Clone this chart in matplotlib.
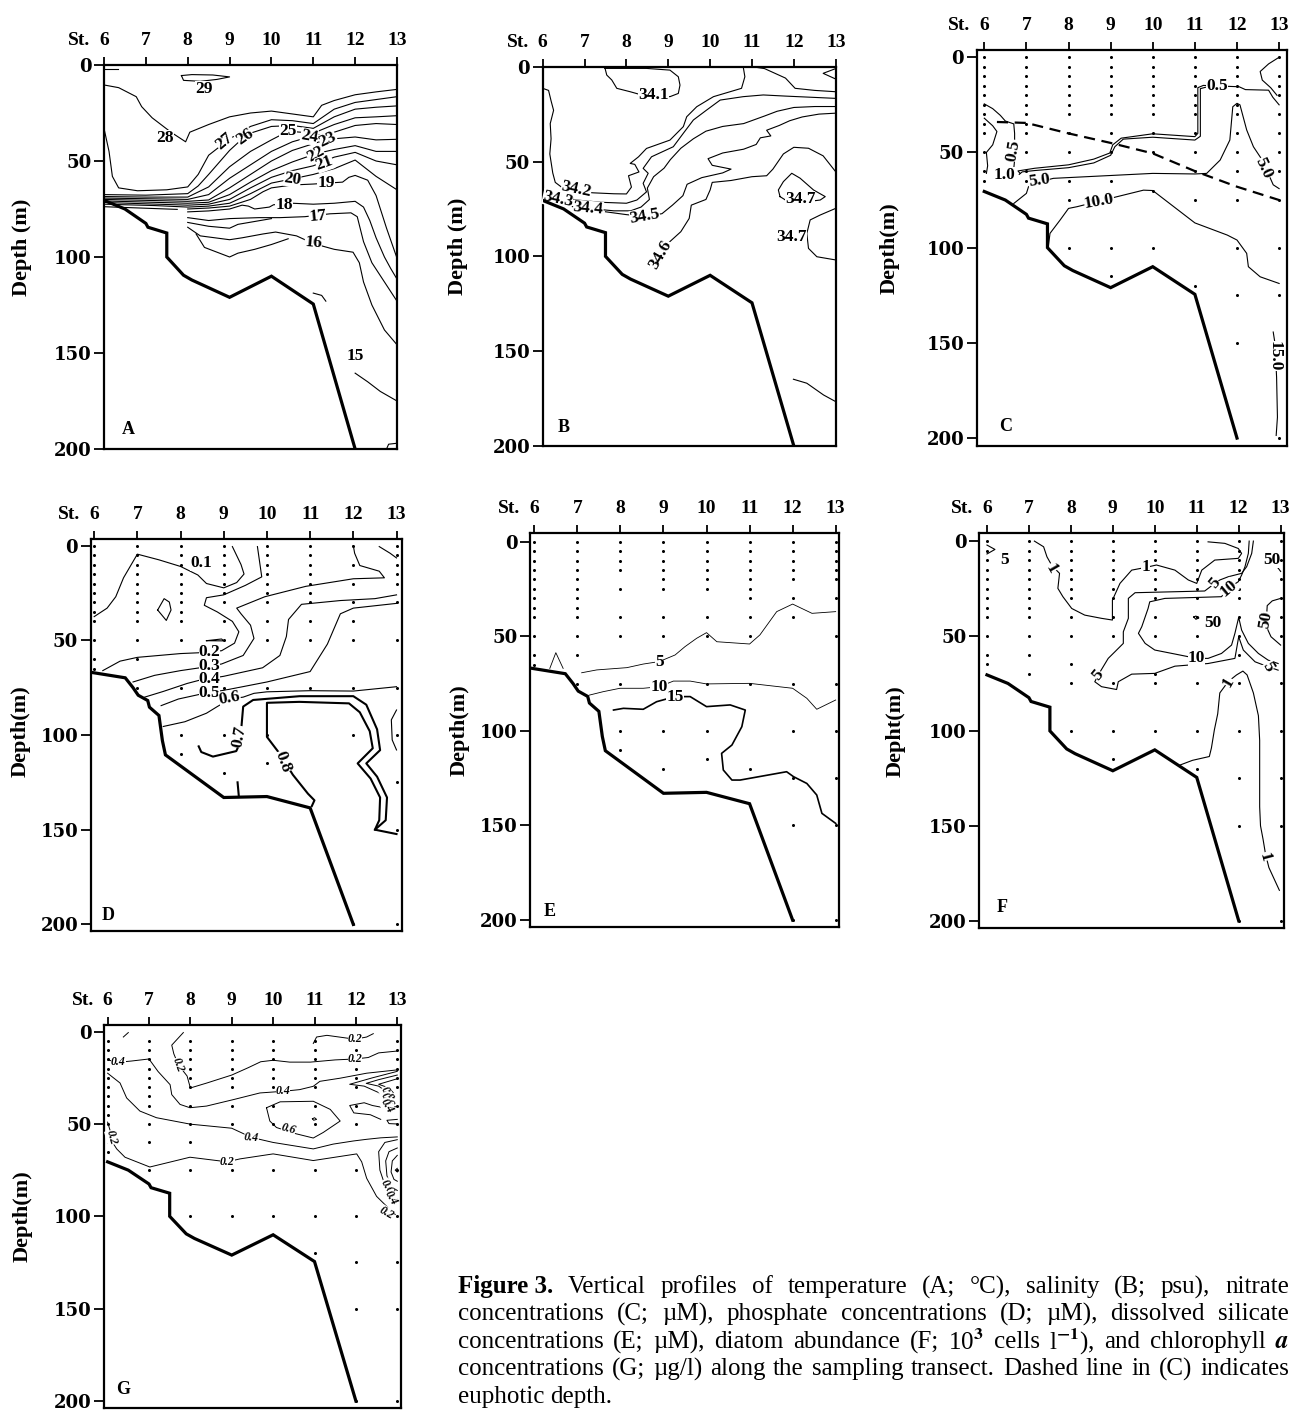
import matplotlib
matplotlib.use("Agg")
import matplotlib.pyplot as plt

plt.rcParams["font.family"] = ["Liberation Serif", "DejaVu Serif"]
plt.rcParams["font.weight"] = "bold"
plt.rcParams["mathtext.fontset"] = "stix"

W, H = 1291, 1412

stations = [6, 7, 8, 9, 10, 11, 12, 13]
depth_ticks = [0, 50, 100, 150, 200]

# sea floor along the transect (station, depth in m)
floor_st = [6, 6.5, 7, 7.05, 7.5, 7.5, 7.9, 8.1, 9, 10, 11, 12]
floor_d = [70.5, 75, 82.5, 84.5, 87.5, 100, 109.5, 112, 121, 110, 124.5, 200]
# sea floor as drawn in panels D and E
floor2_st = [5.9, 6.72, 6.9, 7.02, 7.24, 7.28, 7.5, 7.58, 7.65, 9, 10, 11, 12]
floor2_d = [66.8, 69.8, 75, 79, 81.8, 85.3, 89.7, 103, 110.5, 133, 132.5, 138.5, 200]

# ---------------- A: temperature
temp_lines = [
    [(6, 2.3), (6.33, 2.3)],
    [(7.85, 5.5), (7.9, 8), (8.3, 8.5), (8.7, 7.5), (9.0, 6.2), (8.6, 5.2), (8.1, 5), (7.85, 5.5)],
    [(6, 10.4), (6.35, 11.8), (6.77, 16.5), (6.9, 21.7), (7.15, 27.5), (7.6, 35), (7.95, 40), (8.05, 35),
     (8.5, 31), (9, 27), (9.5, 25), (10, 24), (10.5, 25.5), (11, 27), (11.2, 21), (11.5, 18.5), (12, 15.5),
     (12.5, 14), (13, 12.7)],
    [(6, 33), (6.12, 45), (6.2, 58), (6.35, 64), (6.8, 65.5), (7.5, 65), (8, 63.5), (8.25, 57), (8.5, 47),
     (9, 38.5), (9.5, 32), (10, 28.5), (10.5, 29), (11, 30.5), (11.5, 23), (12, 19.5), (12.5, 18), (13, 16.5)],
    [(6, 67.5), (7, 67.8), (8, 67), (8.25, 63), (8.5, 57), (9, 44.5), (9.36, 37.3), (9.5, 35.5), (10, 32),
     (10.5, 31.5), (11, 33), (11.5, 27), (12, 23), (12.5, 22), (13, 21.3)],
    [(6, 68.5), (7, 68.8), (8, 68.8), (8.5, 63.5), (9, 53), (9.5, 45), (10, 39), (10.4, 34.5), (11, 35.5),
     (11.5, 31), (12, 27.5), (12.5, 27), (13, 26.4)],
    [(6, 69.3), (8, 70), (8.5, 67.5), (9, 59), (9.5, 52), (10, 45), (10.5, 40), (10.9, 37.5), (11.5, 35),
     (12, 31.5), (12.5, 30.5), (13, 31)],
    [(6, 70), (8, 71), (8.5, 70.3), (9, 64), (9.5, 57), (10, 50), (10.5, 44.5), (11, 41), (11.35, 38.7),
     (12, 37.5), (12.5, 39), (13, 38.7)],
    [(6, 70.8), (8, 72), (8.5, 71.5), (9, 67.5), (9.5, 61), (10, 55), (10.5, 50.5), (11.05, 46.3), (11.5, 44),
     (12, 42), (12.5, 45), (13, 45)],
    [(6, 71.6), (8, 73), (8.5, 72.5), (9, 70), (9.5, 64), (10, 58.5), (10.5, 55), (11, 52.5), (11.5, 48),
     (12, 45.5), (12.5, 50), (13, 52)],
    [(6, 72.5), (7.2, 73.2), (8, 74), (8.5, 73.5), (9, 72), (9.5, 67), (10, 61.5), (10.5, 59.3), (11, 57),
     (11.5, 54), (12, 49.5), (12.5, 58), (13, 65)],
    [(6, 73.8), (7.75, 75.2)],
    [(8, 75), (8.5, 74.5), (9, 73.5), (9.5, 70), (9.8, 66), (10, 64), (10.5, 62.5), (11, 62), (11.7, 61),
     (11.85, 58.5), (12, 57.5), (12.3, 60), (12.5, 68), (12.75, 85), (13, 100.6)],
    [(8, 76.5), (8.5, 76), (9, 75), (9.3, 73), (9.45, 73.5), (9.6, 75), (9.95, 74), (10.05, 72.8), (10.5, 72),
     (11, 72.5), (11.5, 72), (12, 71), (12.2, 74), (12.35, 81), (12.5, 90), (12.7, 100), (12.85, 106), (13, 111.5)],
    [(8, 79.5), (8.5, 81), (9, 80), (9.7, 79.5), (10.2, 79.5), (10.8, 79), (11.4, 77.5), (11.9, 77), (12.05, 79),
     (12.2, 92), (12.4, 103), (12.7, 113), (13, 123)],
    [(8, 82), (8.5, 84), (9, 85), (9.2, 83), (9.6, 81.5), (10, 80)],
    [(8, 84.5), (8.3, 89), (9, 91), (9.3, 90), (9.8, 88), (10.1, 87), (10.6, 89), (11, 93), (11.5, 96),
     (11.95, 97.5), (12.1, 103), (12.2, 113), (12.4, 125), (12.7, 138), (13, 145.7)],
    [(8.2, 88), (8.4, 95), (9, 100), (9.2, 98), (9.6, 96), (10, 93.5), (10.4, 90.5)],
    [(12, 160.5), (12.3, 165), (12.6, 170), (13, 175)],
    [(11, 118.8), (11.2, 120), (11.3, 123)],
    [(12.75, 200), (12.8, 197.5), (13, 197)],
]
temp_labels = [("29", 8.39, 12.7, 0), ("28", 7.45, 37.8, 0), ("27", 8.88, 40, 40), ("26", 9.36, 37.3, 35),
               ("25", 10.4, 34.3, 0), ("24", 10.9, 37.3, -10), ("23", 11.35, 38.7, 25), ("22", 11.05, 46.3, 30),
               ("21", 11.27, 51.2, 20), ("20", 10.5, 59.3, -8), ("19", 11.3, 61.6, 0), ("18", 10.3, 73, 0),
               ("17", 11.1, 79, 5), ("16", 11.0, 92.8, -5), ("15", 12.01, 151.4, 0)]

# ---------------- B: salinity
sal_lines = [
    [(7.49, 0.9), (7.53, 4.4), (7.65, 7), (7.77, 11.4), (8.09, 13.2), (8.3, 14.5), (8.64, 15), (9.04, 15.8),
     (9.24, 14.1), (9.28, 9.7), (9.24, 5.3), (9.04, 1.8), (8.48, 0.9), (7.49, 0.9)],
    [(6, 11.4), (6.14, 12.5), (6.2, 18), (6.26, 23), (6.18, 30), (6.2, 38), (6.17, 46), (6.24, 56), (6.3, 61),
     (6.45, 63.5), (6.73, 65.4), (7.2, 66.5), (7.7, 67), (8.0, 67.1), (8.12, 63.5), (8.05, 57.5), (8.3, 55.5),
     (8.2, 51.5), (8.09, 51), (8.29, 47.5), (8.48, 43.1), (9.04, 38.7), (9.36, 31.6), (9.44, 26.4), (9.68, 21.1),
     (10.08, 15.8), (10.75, 11.4), (10.83, 5.3), (10.79, 0)],
    [(11.0, 0), (11.3, 1), (11.8, 6), (12.03, 11.4), (12.5, 12.5), (13, 13.2)],
    [(13, 1), (12.7, 3.5), (13, 6.5)],
    [(6.05, 70), (6.41, 68.5), (6.81, 70.3), (7.4, 71.5), (8.0, 72), (8.25, 70.3), (8.48, 66), (8.4, 61.5),
     (8.52, 56.2), (8.4, 53.6), (8.6, 47.5), (9.12, 42.2), (9.36, 35.1), (9.6, 28.1), (9.92, 22.8), (10.24, 17.6),
     (10.79, 15.8), (11.27, 14.9), (11.8, 15.5), (12.3, 16), (13, 16.7)],
    [(6.15, 72), (6.6, 73.5), (7.09, 74.7), (7.7, 76), (8.1, 76), (8.35, 74), (8.55, 70), (8.5, 64), (8.65, 58),
     (8.9, 53.5), (9.05, 49), (9.3, 43), (9.6, 38), (9.9, 34), (10.3, 31.5), (10.8, 30), (11.3, 26), (11.6, 23.5),
     (12.0, 21.5), (12.5, 21), (13, 21)],
    [(7.5, 76.5), (8.0, 78), (8.44, 79), (8.85, 77.5), (9.1, 73), (9.35, 68), (9.45, 62), (9.8, 58.5), (10.3, 56),
     (10.5, 54), (10.05, 52), (9.95, 48.5), (10.3, 45.5), (10.8, 43.5), (11.1, 41), (11.2, 37.5), (11.45, 36.5),
     (11.35, 33.5), (11.65, 31), (11.9, 28.5), (12.2, 26.5), (12.6, 25), (13, 24.5)],
    [(8.6, 104), (8.75, 98), (9.0, 93), (9.3, 87), (9.5, 80), (9.55, 73), (9.9, 70), (10.0, 65), (10.05, 61),
     (10.5, 60), (11.0, 58), (11.35, 57.5), (11.5, 54), (11.75, 46), (12.0, 42.5), (12.35, 43), (12.7, 47), (13, 55.4)],
    [(11.67, 68.5), (11.63, 65), (11.75, 60.6), (11.95, 56.2), (12.15, 58.8), (12.47, 65), (12.75, 68.5),
     (12.63, 70.3), (12.2, 71.5), (11.85, 71), (11.67, 68.5)],
    [(13, 74.7), (12.63, 78.2), (12.39, 80.8), (12.31, 87.9), (12.35, 95.8), (12.55, 100.2), (13, 101.9)],
    [(11.99, 164.8), (12.31, 166.9), (12.71, 173.1), (13, 176.6)],
]
sal_labels = [("34.1", 8.64, 14.9, 0), ("34.2", 6.8, 64.8, -12), ("34.3", 6.36, 69.8, -12),
              ("34.4", 7.09, 74.9, -5), ("34.5", 8.44, 79, 10), ("34.6", 8.82, 99, 60),
              ("34.7", 12.15, 70, 0), ("34.7", 11.95, 89.6, 0)]

# ---------------- C: nitrate
no3_lines = [
    [(6, 24.5), (6.2, 27), (6.38, 30.5), (6.5, 33.5), (6.7, 35), (6.72, 40), (6.72, 54), (6.7, 58.5)],
    [(6, 32), (6.2, 36), (6.3, 39), (6.2, 46), (6.05, 50), (6.08, 57), (6.05, 61)],
    [(6.83, 61.5), (6.9, 60.2), (7.2, 59.5), (8, 58), (8.6, 55.5), (9, 51.5), (9.1, 47), (9.3, 43), (10, 42),
     (11, 43.5), (11.13, 41.5), (11.13, 16.5), (11.25, 15.8)],
    [(6.85, 61), (6.8, 59.7), (7.2, 58.3), (8, 56.5), (8.6, 53.5), (8.98, 50.3), (9.05, 46), (9.25, 42.5),
     (10, 40.2), (11, 41.7), (11.07, 40), (11.07, 16), (11.2, 14.8), (12.05, 15.5), (12.2, 17), (12.75, 17.3),
     (12.85, 21), (13, 25)],
    [(13, 0), (12.75, 3.5), (12.55, 7.5), (12.6, 12), (12.8, 16), (12.95, 20)],
    [(6.7, 76.8), (7, 71.5), (7.05, 68), (7.3, 65.5), (7.64, 63.6), (10, 61), (11, 61.3), (11.28, 61),
     (11.6, 54), (11.83, 43.5), (11.9, 26), (12, 24.2), (12.07, 25), (12.23, 38.2), (12.39, 47), (12.6, 54),
     (12.86, 67), (13, 69)],
    [(7.52, 99.6), (7.56, 92.5), (7.8, 85.5), (8, 79.4), (8.2, 78.5), (9.14, 73.3), (9.78, 69.8), (10, 70),
     (10.5, 78.5), (11, 87), (11.77, 93.4), (12, 96), (12.23, 103), (12.27, 110), (12.55, 115.3), (13, 118.8)],
    [(12.86, 144.3), (12.9, 150), (12.94, 168), (12.96, 189), (12.93, 198.6)],
]
no3_labels = [("0.5", 6.7, 49, 80), ("1.0", 6.49, 61.9, 0), ("5.0", 7.3, 64.8, 8), ("10.0", 8.73, 75.9, 10),
              ("0.5", 11.52, 15.0, 0), ("5.0", 12.63, 58.4, -65), ("15.0", 12.9, 157, -90)]
euph_st = [6.3, 7, 8, 9, 10, 11, 12, 13]
euph_d = [34, 34.5, 40, 45, 50.5, 59.8, 68, 75]
no3_samples = [
    [0, 5, 10, 15, 20, 25, 30, 35, 40, 50, 60, 65],
    [0, 5, 10, 15, 20, 25, 30, 35, 40, 50, 60, 65],
    [0, 5, 10, 15, 20, 25, 30, 40, 50, 65, 75, 100],
    [0, 5, 10, 15, 20, 25, 30, 40, 50, 65, 75, 100, 115],
    [0, 5, 10, 15, 20, 25, 30, 40, 50, 70, 100],
    [0, 5, 10, 15, 20, 25, 30, 40, 50, 60, 75, 120],
    [0, 5, 10, 15, 20, 25, 30, 40, 50, 60, 75, 100, 125, 150],
    [0, 10, 15, 20, 30, 40, 50, 60, 75, 100, 125, 200],
]

# ---------------- D: phosphate
po4_lines = [
    [(6, 37.5), (6.3, 33), (6.5, 27), (6.68, 17), (7.0, 4.5), (7.5, 7.5), (8.0, 11), (8.4, 15.5), (8.6, 20),
     (9, 22.3), (9.3, 19.5), (9.47, 15), (9.4, 10), (9.2, 0.5)],
    [(7.47, 34), (7.62, 28), (7.74, 29.8), (7.78, 34), (7.67, 39.5), (7.47, 34)],
    [(8.6, 50.2), (8.95, 49.3), (9.0, 50.3), (8.6, 50.2)],
    [(6.2, 66), (6.6, 61), (7.0, 59), (8.0, 57), (8.5, 56.5), (8.95, 55.5), (9.25, 51.5), (9.35, 45.5), (9.2, 40),
     (8.85, 35), (8.55, 31.5), (8.6, 27.5), (9, 26), (9.5, 21), (9.88, 16.5), (9.83, 8.5), (9.78, 0.5)],
    [(6.9, 72), (7.4, 68.5), (8.0, 66), (8.45, 64.5), (8.95, 62.5), (9.45, 58), (9.7, 49), (9.62, 42), (9.4, 36),
     (9.3, 33), (9.95, 27), (10.9, 21.5), (12.0, 17.5), (12.72, 17), (12.6, 13.5), (12.15, 10.5), (12.03, 4), (12, 0)],
    [(7.17, 80), (7.6, 77), (8.15, 72.8), (8.45, 71), (9.0, 69), (9.9, 64.5), (10.3, 58), (10.45, 48), (10.5, 39),
     (10.8, 31), (11.7, 29), (12.5, 28), (13, 26)],
    [(7.55, 84.5), (7.95, 81), (8.45, 78.5), (9.1, 76), (10, 72), (11, 66.5), (11.4, 52), (11.7, 36), (12, 33),
     (13, 30.5)],
    [(7.6, 95.5), (8.1, 93), (8.6, 88.5), (8.85, 85), (9.15, 81), (9.45, 80), (9.7, 78), (10, 77.2), (11, 76.6),
     (12, 76.8), (13, 74.5)],
    [(12.6, 0.5), (12.85, 4), (13, 6.5)],
    [(13, 86.8), (12.88, 92), (12.9, 102.6), (13, 107.9)],
]
po4_thick = [
    [(8.42, 106), (8.48, 109), (8.75, 111.4), (9.29, 108.5), (9.38, 104), (9.41, 95.6), (9.45, 85), (9.68, 81.5),
     (10.76, 79.5), (12, 79.5), (12.3, 84), (12.55, 97), (12.62, 108), (12.3, 115), (12.55, 122), (12.78, 133),
     (12.75, 145), (12.5, 150), (13, 152.3)],
    [(11.04, 137.5), (11.1, 134.5), (10.95, 131), (10.6, 121), (10.3, 110), (10.0, 101), (10.0, 83), (10.75, 82.5),
     (11.9, 83.3), (12.15, 88), (12.38, 98), (12.45, 107), (12.1, 115), (12.4, 123), (12.62, 133), (12.6, 145),
     (12.5, 150)],
    [(9.32, 125), (9.35, 132.5)],
]
po4_labels = [("0.1", 8.48, 9.3, 0), ("0.2", 8.67, 56.3, 0), ("0.3", 8.67, 63.4, 0), ("0.4", 8.67, 70.4, 0),
              ("0.5", 8.67, 77.8, 0), ("0.6", 9.14, 80.6, 10), ("0.7", 9.37, 100.9, 80), ("0.8", 10.38, 114, -70)]
po4_samples = [
    [0, 5, 10, 15, 20, 25, 30, 35, 40, 50, 60, 65],
    [0, 5, 10, 15, 20, 25, 30, 35, 40, 50, 60, 75],
    [0, 5, 10, 15, 20, 25, 30, 35, 40, 50, 75, 100, 110],
    [0, 5, 10, 15, 20, 25, 30, 40, 50, 75, 100, 120],
    [0, 5, 10, 15, 20, 25, 30, 40, 50, 75, 100, 115],
    [0, 5, 10, 15, 20, 25, 30, 40, 50, 75],
    [0, 10, 20, 30, 40, 50, 75, 100, 200],
    [0, 5, 10, 15, 20, 30, 50, 75, 100, 125, 150, 200],
]

# ---------------- E: silicate
si_lines = [
    [(6.36, 67), (6.5, 58.7), (6.67, 67)],
    [(7.1, 69.3), (7.45, 67.8), (8.15, 66.6), (8.53, 64.7), (8.9, 63.4), (9.27, 59.9), (9.5, 55.5), (9.77, 51.1),
     (10, 48.1), (10.24, 52.9), (11, 54.1), (11.24, 49.3), (11.63, 37), (12, 33), (12.45, 37.9), (13, 37)],
    [(7.28, 81.1), (7.6, 79.3), (7.99, 77.5), (8.53, 77.5), (8.9, 76.7), (9.23, 73.7), (9.62, 73.7), (10, 75.2),
     (11, 74.9), (12, 77.5), (12.33, 82.8), (12.56, 88.6), (13, 83.7)],
]
si_thick = [
    [(7.84, 89), (8.07, 88.1), (8.53, 88.6), (8.84, 84.6), (9.27, 81.9), (9.62, 81.9), (10, 87.2), (10.55, 86.3),
     (10.9, 89), (10.82, 97.8), (10.59, 107.5), (10.35, 111.9), (10.39, 120.7), (10.59, 126), (10.78, 126),
     (11.86, 121.6), (12.02, 124.2), (12.33, 127.8), (12.56, 133.9), (12.68, 143.6), (13, 148.9)],
]
si_labels = [("5", 8.9, 63.4, 0), ("10", 8.9, 76.7, 0), ("15", 9.27, 81.9, 0)]
si_samples = [
    [0, 5, 10, 15, 20, 25, 30, 35, 40, 50, 60, 65],
    [0, 5, 10, 15, 20, 25, 30, 35, 40, 50, 60, 75],
    [0, 5, 10, 15, 25, 40, 50, 75, 100, 110],
    [0, 5, 10, 15, 20, 25, 40, 50, 100, 120],
    [0, 5, 10, 15, 20, 25, 40, 50, 75, 100, 115],
    [0, 5, 10, 15, 20, 25, 30, 40, 50, 75, 120],
    [0, 5, 10, 15, 20, 30, 40, 75, 100, 125, 150, 200],
    [0, 5, 10, 15, 20, 30, 50, 75, 100, 125, 150, 200],
]

# ---------------- F: diatoms
diat_lines = [
    [(6, 2.1), (6.19, 4.4), (6, 6.8)],
    [(7.13, 0), (7.35, 3), (7.43, 8.3), (7.55, 13), (7.73, 17), (7.69, 24.9), (7.81, 29.3), (8.02, 35.5),
     (8.33, 39), (8.73, 40.7), (8.99, 41.6), (8.99, 31.1), (9.17, 22.3), (9.45, 15.3), (9.78, 13.9), (10.04, 12.6),
     (10.48, 15.3), (10.8, 20.5), (11, 22.3), (11.12, 15.3), (11.43, 10), (11.99, 9.1), (12.07, 6.5), (11.99, 3.9),
     (11.67, 1.2), (11.27, 0.4)],
    [(12.35, 0), (12.31, 6.5), (12.19, 13.5), (12.07, 17), (11.75, 18.8), (11.55, 20.5), (11.43, 22.3),
     (11.19, 26.3), (9.53, 27.2), (9.37, 30.2), (9.37, 40.7), (9.25, 47.8), (9.25, 53.9), (9.05, 58.3),
     (8.89, 61.8), (8.65, 70.6), (8.57, 74.1), (8.73, 76.7), (9.09, 78.2), (9.13, 74.1), (9.45, 70.1), (10, 69.7),
     (10.48, 65.9), (11.27, 64.5), (11.91, 61.8), (12, 50.4), (12.11, 57.4), (12.39, 63.6), (12.7, 66.2),
     (12.94, 68)],
    [(12.25, 0), (12.23, 6.5), (12.15, 13.5), (12.07, 17.9), (11.99, 21.4), (11.75, 24.9), (11.59, 29.3),
     (10.24, 30.2), (9.88, 32), (9.84, 35.5), (9.69, 45.1), (9.61, 48.6), (9.77, 53.9), (10, 57.4), (10.48, 59.5),
     (11, 61.8), (11.27, 61.8), (11.59, 59.2), (11.83, 54.8), (11.91, 48.6), (12, 40.2), (12.07, 46.9),
     (12.23, 53.9), (12.47, 59.2), (12.7, 62.7), (12.94, 64.5)],
    [(10.93, 40), (10.98, 39.5), (11.05, 40.5), (10.98, 41.2), (10.93, 40)],
    [(12.85, 12), (12.95, 14.5), (13, 16)],
    [(13, 30.2), (12.8, 31.5), (12.68, 34), (12.66, 41.6), (12.7, 47), (12.77, 50.4), (13, 54.8)],
    [(10.6, 118), (10.9, 115.5), (11.3, 113.5), (11.35, 109), (11.42, 99.5), (11.5, 91), (11.55, 80), (11.75, 74),
     (11.95, 70.5), (12.1, 68.5), (12.2, 70.5), (12.35, 80), (12.47, 92), (12.5, 105), (12.5, 140), (12.52, 150),
     (12.58, 157), (12.64, 165), (12.72, 172), (12.97, 184)],
]
diat_labels = [("5", 6.41, 10, 0), ("1", 7.52, 14.4, -60), ("1", 9.78, 13.9, 0), ("5", 11.43, 22.3, 50),
               ("10", 11.75, 24.9, 40), ("50", 12.78, 10, 0), ("50", 11.39, 43, 0), ("50", 12.64, 41.6, 80),
               ("10", 11.0, 61.8, 0), ("5", 8.65, 70.6, 50), ("5", 12.7, 66.2, -60), ("1", 11.75, 74.1, 60),
               ("1", 12.62, 166.3, -75)]
diat_samples = [
    [0, 5, 10, 15, 20, 25, 30, 35, 40, 50, 60, 65],
    [0, 5, 10, 15, 20, 25, 30, 35, 40, 50, 60, 70],
    [0, 5, 10, 15, 20, 25, 30, 40, 50, 65, 75, 100],
    [0, 5, 10, 15, 20, 25, 30, 40, 50, 75, 100, 115],
    [0, 5, 10, 15, 20, 25, 30, 40, 50, 70, 75, 100],
    [0, 5, 10, 15, 20, 25, 30, 40, 50, 60, 75, 100, 120],
    [0, 5, 10, 15, 20, 25, 30, 40, 50, 60, 75, 100, 125, 150, 200],
    [0, 10, 20, 30, 40, 50, 75, 100, 125, 150, 200],
]

# ---------------- G: chlorophyll a
chl_lines = [
    [(6.38, 2.9), (6.5, 0.5)],
    [(7.83, 0.5), (7.55, 7.3), (7.6, 12), (7.71, 18), (7.92, 24), (8.0, 30.5), (8.4, 27.8), (9.0, 23.5),
     (9.4, 19.5), (9.7, 16.3), (10.0, 15.5), (10.4, 16.5), (10.9, 16.5), (11.5, 15.3), (11.98, 14.8), (12.3, 14),
     (12.55, 11.5), (13, 10.5)],
    [(10.97, 6.4), (11.05, 2.9), (11.3, 2), (11.98, 4.1), (12.26, 2.9), (12.42, 1.1)],
    [(6, 15.3), (6.26, 16.6), (6.58, 15.9), (7, 14.8), (7.22, 21.6), (7.51, 28.7), (7.55, 34.1), (7.75, 39.4),
     (7.99, 41.2), (8.39, 40.3), (9.04, 36.8), (9.68, 33.2), (10.24, 32.3), (10.64, 31.4), (10.97, 29.6),
     (11.13, 26.9), (11.62, 25.2), (12.26, 22.5), (13, 20.7)],
    [(6, 22.5), (6.3, 27.8), (6.46, 35.9), (6.78, 43), (7.18, 46.6), (8, 50.1), (9, 52.3), (9.48, 57.3),
     (10.0, 60), (10.97, 63.5), (11.45, 60.9), (11.94, 59.2), (12.26, 58.3), (12.6, 57.5), (13, 57)],
    [(9.84, 41.2), (10.17, 38), (10.97, 37.7), (11.38, 42.1), (11.62, 48.4), (11.21, 54.6), (10.97, 57.6),
     (10.5, 55), (10.08, 51.9), (9.92, 48.4), (9.84, 41.2)],
    [(10.95, 47.2), (11.0, 46.6), (11.05, 47.5), (10.98, 48), (10.95, 47.2)],
    [(6, 49), (6.08, 55), (6.12, 60), (6.22, 63.5), (6.42, 68), (7.02, 73.3), (7.99, 68), (8.89, 70.5),
     (9.2, 68.9), (10, 66.2), (10.97, 69.8), (12.02, 66.2), (12.14, 70.5), (12.26, 79.4), (12.5, 89.2),
     (12.74, 94.5), (12.95, 99)],
    [(13, 21.5), (12.4, 25), (11.85, 28.5), (12.2, 29.5), (12.55, 33), (12.75, 36.5)],
    [(13, 23.5), (12.55, 26), (12.25, 28), (12.55, 29.5), (12.8, 33.5)],
    [(13, 25.5), (12.7, 27.5), (12.55, 28.5), (12.8, 30.5), (12.9, 33)],
    [(13, 40.5), (12.75, 41.5), (12.4, 40), (12.2, 38.5), (11.85, 40), (11.95, 44), (12.35, 45), (12.6, 47.5)],
    [(13, 47.5), (12.75, 48), (12.8, 49.8), (13, 50)],
    [(13, 58.5), (12.7, 60), (12.55, 65), (12.58, 75), (12.7, 83), (12.85, 88), (13, 90.5)],
    [(13, 63), (12.8, 65), (12.72, 70), (12.75, 78), (12.85, 84), (13, 86)],
    [(13, 67), (12.88, 70), (12.85, 76), (12.92, 80), (13, 81)],
    [(13, 74), (12.95, 75), (13, 76)],
]
chl_labels = [("0.2", 7.71, 18, -70), ("0.2", 11.98, 14.8, 0), ("0.2", 11.98, 4.1, 0), ("0.4", 6.26, 16.6, 0),
              ("0.4", 10.24, 32.3, 0), ("0.4", 9.48, 57.3, -5), ("0.6", 10.37, 52.8, -15), ("0.2", 8.89, 70.7, 0),
              ("0.2", 6.1, 57.3, -75), ("0.8", 12.74, 33.9, -60), ("0.6", 12.74, 36.8, -60),
              ("0.4", 12.74, 40.0, -60), ("0.6", 12.74, 83.9, -60), ("0.4", 12.84, 90, -60),
              ("0.2", 12.74, 98.1, -30)]
chl_samples = [
    [5, 10, 15, 20, 25, 30, 35, 40, 45, 50, 55, 60, 65],
    [5, 10, 15, 20, 25, 30, 35, 40, 50, 60, 75],
    [5, 10, 15, 20, 25, 30, 40, 50, 60, 75, 100],
    [5, 10, 15, 20, 25, 30, 40, 50, 75, 100],
    [5, 10, 15, 20, 25, 30, 40, 50, 75, 100],
    [5, 10, 15, 20, 25, 30, 40, 50, 75, 100, 120],
    [5, 10, 15, 20, 25, 30, 40, 50, 75, 100, 125, 150, 200],
    [5, 10, 15, 20, 25, 30, 40, 50, 75, 100, 125, 150, 200],
]

caption_lines = [
    "Vertical profiles of temperature (A; \u00b0C), salinity (B; psu), nitrate",
    "concentrations (C; \u00b5M), phosphate concentrations (D; \u00b5M), dissolved silicate",
    "concentrations (E; \u00b5M), diatom abundance (F; 10$^{3}$ cells l$^{-1}$), and chlorophyll $a$",
    "concentrations (G; \u00b5g/l) along the sampling transect. Dashed line in (C) indicates",
    "euphotic depth.",
]

fig = plt.figure(figsize=(W / 100, H / 100), dpi=100)


def panel(box, xlim, ylim, ylabel, ylab_x, ylab_y, letter, letter_xy):
    l, t, r, b = box
    ax = fig.add_axes([l / W, 1 - b / H, (r - l) / W, (b - t) / H])
    ax.set_xlim(xlim)
    ax.set_ylim(ylim)
    ax.xaxis.set_ticks_position("top")
    ax.set_xticks(stations)
    ax.set_yticks(depth_ticks)
    ax.tick_params(axis="x", length=6, width=1.3, pad=5.5, labelsize=14)
    ax.tick_params(axis="y", length=7.5, width=1.3, pad=1.5, labelsize=13)
    for lab in ax.get_yticklabels():
        lab.set_family("DejaVu Serif")
        lab.set_fontweight("bold")
    for sp in ax.spines.values():
        sp.set_linewidth(1.6)
    ax.annotate("St.", xy=(6, 1), xycoords=("data", "axes fraction"), xytext=(-10, 11.5),
                textcoords="offset points", ha="right", va="bottom", fontsize=14, fontweight="bold")
    ax.set_ylabel(ylabel, fontsize=16, fontweight="bold", va="center")
    ax.yaxis.set_label_coords((ylab_x - l) / (r - l), (b - ylab_y) / (b - t))
    fig.text(letter_xy[0] / W, 1 - letter_xy[1] / H, letter, fontsize=13, fontweight="bold",
             ha="center", va="center")
    return ax


def contours(ax, lines, labels, fs, lw=0.8, italic=False):
    for line in lines:
        ax.plot([p[0] for p in line], [p[1] for p in line], color="black", lw=lw, zorder=2)
    for txt, s, d, rot in labels:
        ax.text(s, d, txt, rotation=rot, ha="center", va="center", fontsize=fs, fontweight="bold",
                style="italic" if italic else "normal", zorder=4,
                bbox=dict(facecolor="white", edgecolor="none", pad=0.0))


def samples(ax, depths):
    for st, ds in zip(stations, depths):
        ax.plot([st] * len(ds), ds, "o", color="black", ms=2.2, mew=0, zorder=3)


def floor(ax, st, d):
    ax.plot(st, d, color="black", lw=2.3, zorder=5, solid_joinstyle="miter")


axA = panel((104, 65, 397, 449), (6, 13), (200, 0), "Depth (m)", 22.5, 247.5, "A", (128, 430))
contours(axA, temp_lines, temp_labels, 12.5)
floor(axA, floor_st, floor_d)

axB = panel((542.7, 66.7, 835.7, 446), (6, 13), (200, 0), "Depth (m)", 457.5, 246.7, "B", (564, 428))
contours(axB, sal_lines, sal_labels, 12.5)
floor(axB, floor_st, floor_d)

axC = panel((976.7, 50, 1286.7, 445.7), (5.82, 13.18), (204, -3.8), "Depth(m)", 890, 248, "C", (1006, 426))
samples(axC, no3_samples)
contours(axC, no3_lines, no3_labels, 12.5)
axC.plot(euph_st, euph_d, color="black", lw=1.6, dashes=(5, 3), zorder=2)
floor(axC, floor_st, floor_d)

axD = panel((90.7, 539, 401.7, 931), (5.92, 13.12), (203.5, -3.5), "Depth(m)", 20.5, 731, "D", (108, 915))
samples(axD, po4_samples)
contours(axD, po4_thick, [], 13, lw=1.5)
contours(axD, po4_lines, po4_labels, 12.5)
floor(axD, floor2_st, floor2_d)

axE = panel((530, 533.3, 838.7, 926.7), (5.9, 13.07), (203.5, -4.4), "Depth(m)", 460, 730, "E", (550, 912))
samples(axE, si_samples)
contours(axE, si_thick, [], 12, lw=1.2)
contours(axE, si_lines, si_labels, 12.5, lw=0.6)
floor(axE, floor2_st, floor2_d)

axF = panel((979, 533.3, 1284, 928.3), (5.81, 13.08), (204, -4.1), "Depht(m)", 895.5, 731, "F", (1002, 908))
samples(axF, diat_samples)
contours(axF, diat_lines, diat_labels, 12.5)
floor(axF, floor_st, floor_d)

axG = panel((104.3, 1025, 401, 1408), (5.92, 13.09), (203.8, -3.6), "Depth(m)", 22.5, 1216, "G", (123, 1389))
samples(axG, chl_samples)
contours(axG, chl_lines, chl_labels, 8.5, lw=0.7, italic=True)
floor(axG, floor_st, floor_d)

# caption, justified between x=458 and x=1289 px
cap_left, cap_right = 458, 1289
cap_y = [1287, 1314, 1342, 1369, 1397]
cap_fs = 18
renderer = fig.canvas.get_renderer()
for i, txt in enumerate(caption_lines):
    words = [(w, False) for w in txt.split(" ")]
    if i == 0:
        words = [("Figure 3.", True)] + words
    objs = [fig.text(0, 1 - cap_y[i] / H, w, fontsize=cap_fs, fontweight="bold" if bold else "normal",
                     va="center", ha="left") for w, bold in words]
    widths = [t.get_window_extent(renderer=renderer).width for t in objs]
    if i < len(caption_lines) - 1:
        gap = (cap_right - cap_left - sum(widths)) / (len(objs) - 1)
    else:
        gap = 6
    x = cap_left
    for t, w in zip(objs, widths):
        t.set_x(x / W)
        x += w + gap

fig.savefig("out.png", dpi=100)
